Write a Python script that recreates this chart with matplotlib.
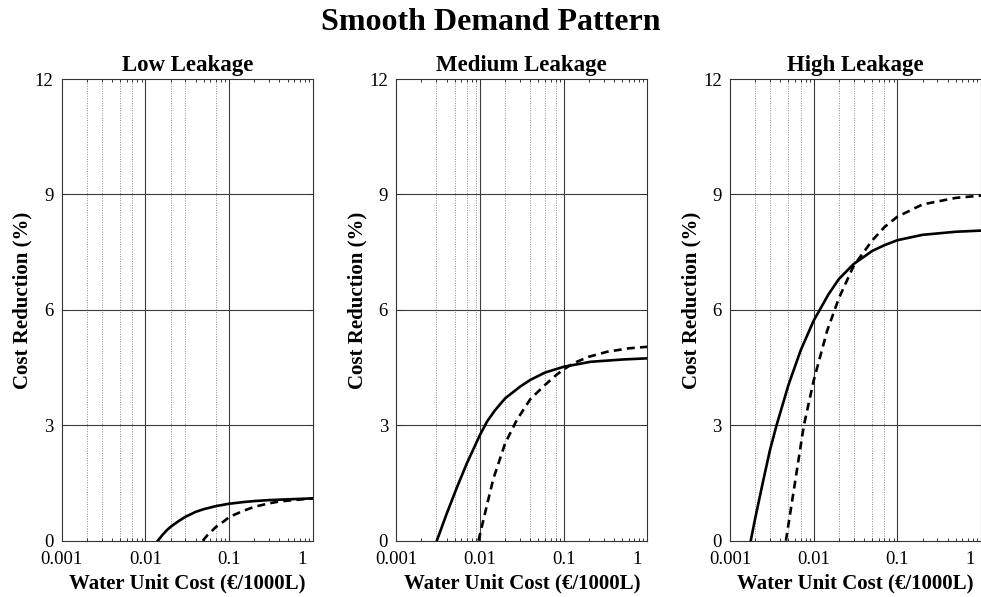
import matplotlib

matplotlib.use("Agg")
import matplotlib.pyplot as plt
from matplotlib.ticker import FixedLocator, LogLocator, NullFormatter, FixedFormatter

plt.rcParams["font.family"] = ["Liberation Serif", "DejaVu Serif"]

# cost reduction (%) vs water unit cost (EUR/1000 L), per leakage level
low_solid_x = [0.0141, 0.016, 0.018, 0.02, 0.025, 0.03, 0.04, 0.05, 0.07,
               0.1, 0.15, 0.2, 0.3, 0.5, 1.0]
low_solid_y = [0.0, 0.15, 0.27, 0.36, 0.51, 0.62, 0.75, 0.82, 0.90,
               0.96, 1.005, 1.03, 1.055, 1.075, 1.10]
low_dash_x = [0.0485, 0.055, 0.06, 0.07, 0.085, 0.1, 0.12, 0.15, 0.2, 0.3,
              0.4, 0.5, 0.7, 1.0]
low_dash_y = [0.0, 0.14, 0.22, 0.36, 0.49, 0.61, 0.69, 0.78, 0.88, 0.97,
              1.02, 1.04, 1.07, 1.10]

med_solid_x = [0.00305, 0.004, 0.00529, 0.00697, 0.01, 0.0121, 0.015, 0.02,
               0.03, 0.04, 0.06, 0.1, 0.21, 0.51, 1.0]
med_solid_y = [0.0, 0.70, 1.38, 2.01, 2.75, 3.09, 3.38, 3.70,
               4.00, 4.18, 4.37, 4.52, 4.65, 4.71, 4.74]
med_dash_x = [0.0096, 0.0121, 0.0145, 0.02, 0.0276, 0.04, 0.06, 0.083,
              0.1, 0.12, 0.144, 0.2, 0.33, 0.6, 1.0]
med_dash_y = [0.0, 0.92, 1.62, 2.53, 3.14, 3.68, 4.05, 4.32,
              4.45, 4.56, 4.65, 4.78, 4.91, 5.00, 5.04]

high_solid_x = [0.00177, 0.002, 0.0025, 0.003, 0.0036, 0.005, 0.007, 0.01,
                0.015, 0.02, 0.03, 0.05, 0.07, 0.1, 0.2, 0.5, 1.0]
high_solid_y = [0.0, 0.58, 1.57, 2.35, 3.00, 4.05, 4.95, 5.72,
                6.40, 6.80, 7.19, 7.53, 7.68, 7.81, 7.95, 8.03, 8.06]
high_dash_x = [0.00466, 0.006, 0.007, 0.00764, 0.01, 0.0145, 0.02, 0.03,
               0.05, 0.07, 0.1, 0.2, 0.5, 1.0]
high_dash_y = [0.0, 1.53, 2.47, 3.00, 4.16, 5.46, 6.30, 7.14,
               7.80, 8.15, 8.42, 8.74, 8.91, 8.97]

# dotted vertical grid positions in each panel
low_dotted = [0.002, 0.003, 0.005, 0.007, 0.02, 0.03, 0.07]
med_dotted = [0.003, 0.005, 0.007, 0.009, 0.02, 0.04, 0.06, 0.08]
high_dotted = [0.002, 0.003, 0.005, 0.007, 0.02, 0.03, 0.05, 0.07]

titles = ["Low Leakage", "Medium Leakage", "High Leakage"]
x_ticks = [0.001, 0.01, 0.1, 1]
x_ticklabels = ["0.001", "0.01", "0.1", "1"]
y_ticks = [0, 3, 6, 9, 12]

panels = [
    (low_solid_x, low_solid_y, low_dash_x, low_dash_y, low_dotted),
    (med_solid_x, med_solid_y, med_dash_x, med_dash_y, med_dotted),
    (high_solid_x, high_solid_y, high_dash_x, high_dash_y, high_dotted),
]

W, H = 981, 597
fig = plt.figure(figsize=(W / 100, H / 100), dpi=100, facecolor="white")
lefts = [61.7, 396.3, 730.0]
ax_w, top, bottom = 251.0, 79.0, 540.7

for left, title, (sx, sy, dx, dy, dotted) in zip(lefts, titles, panels):
    ax = fig.add_axes([left / W, 1 - bottom / H, ax_w / W, (bottom - top) / H])
    ax.set_xscale("log")
    ax.set_xlim(0.001, 1.0)
    ax.set_ylim(0, 12)

    for xv in dotted:
        ax.axvline(xv, color="#8c8c8c", lw=0.7, ls=(0, (1, 1.5)), zorder=1)
    for xv in [0.01, 0.1]:
        ax.axvline(xv, color="#3c3c3c", lw=0.8, zorder=1)
    for yv in [3, 6, 9]:
        ax.axhline(yv, color="#3c3c3c", lw=0.8, zorder=1)

    ax.plot(sx, sy, color="black", lw=1.9, solid_joinstyle="round", zorder=3)
    ax.plot(dx, dy, color="black", lw=1.9, ls=(0, (3.0, 2.0)), zorder=3)

    ax.xaxis.set_major_locator(FixedLocator(x_ticks))
    ax.xaxis.set_major_formatter(FixedFormatter(x_ticklabels[:-1] + [""]))
    ax.xaxis.set_minor_locator(LogLocator(base=10, subs=range(2, 10), numticks=20))
    ax.xaxis.set_minor_formatter(NullFormatter())
    ax.set_yticks(y_ticks)
    ax.tick_params(which="both", direction="in", top=True, right=True,
                   labelsize=13.5, width=0.7, color="#333333")
    ax.tick_params(which="major", length=4)
    ax.tick_params(which="minor", length=2.5)
    ax.tick_params(axis="x", pad=7.5)
    ax.tick_params(axis="y", pad=6)

    # last tick label sits a little inside the right edge
    ax.annotate(x_ticklabels[-1], xy=(1.0, 0), xycoords=("data", "axes fraction"),
                xytext=(-7.5, -7.5), textcoords="offset points",
                ha="center", va="top", fontsize=13.5)

    for s in ax.spines.values():
        s.set_linewidth(0.8)
        s.set_color("#333333")

    ax.set_title(title, fontsize=16.5, fontweight="bold", pad=6)
    ax.set_xlabel("Water Unit Cost (€/1000L)", fontsize=15, fontweight="bold")
    ax.xaxis.set_label_coords(0.5, -0.07)
    ax.set_ylabel("Cost Reduction (%)", fontsize=15, fontweight="bold")
    ax.yaxis.set_label_coords(-0.115, 0.52)

fig.suptitle("Smooth Demand Pattern", fontsize=23, fontweight="bold", y=0.963, va="center")
fig.savefig("out.png", dpi=100, facecolor="white")
